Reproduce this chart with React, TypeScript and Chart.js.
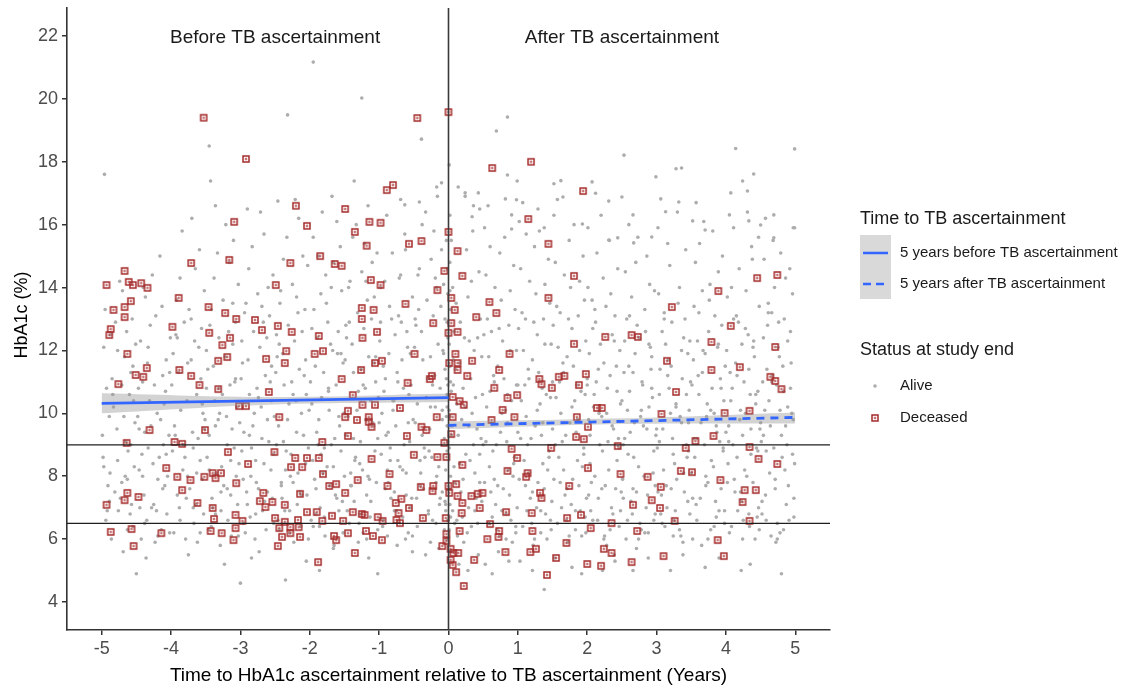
import React, { useEffect, useRef } from "react";
import { Chart, registerables } from "chart.js";

Chart.register(...registerables);

const FONT = '"Liberation Sans", Arial, sans-serif';

// ---- axes ----
const xMin = -5.5;
const xMax = 5.5;
const yMin = 3.11;
const yMax = 22.89;
const xTicks = [-5, -4, -3, -2, -1, 0, 1, 2, 3, 4, 5];
const yTicks = [4, 6, 8, 10, 12, 14, 16, 18, 20, 22];
const refY = [6.5, 9];
const refX = [0];

// ---- texts ----
const panelLabels = ["Before TB ascertainment", "After TB ascertainment"];
const panelLabelX = [-2.5, 2.5];
const panelLabelY = 22;
const xTitle = "Time to HbA1c ascertainment relative to TB ascertainment (Years)";
const yTitle = "HbA1c (%)";
const legendTitle1 = "Time to TB ascertainment";
const legendItems1 = ["5 years before TB ascertainment", "5 years after TB ascertainment"];
const legendTitle2 = "Status at study end";
const legendItems2 = ["Alive", "Deceased"];

// ---- fitted lines and confidence bands ----
const trendBeforeX = [-5, 0];
const trendBeforeY = [10.32, 10.5];
const trendAfterX = [0, 5];
const trendAfterY = [9.62, 9.87];
const bandBeforeX = [-5, -2.5, 0];
const bandBeforeLo = [10.0, 10.28, 10.36];
const bandBeforeHi = [10.64, 10.52, 10.63];
const bandAfterX = [0, 2.5, 5];
const bandAfterLo = [9.5, 9.66, 9.68];
const bandAfterHi = [9.74, 9.84, 10.03];

// ---- alive (grey) points, before TB ascertainment ----
const aliveBefore = [
[-4.97,12.1],[-4.62,8.8],[-4.83,10.2],[-4.55,6.4],[-4.91,7.7],[-4.7,13.9],[-4.58,11.3],[-4.99,9.3],[-4.76,6.9],[-4.64,12.6],[-4.88,8.1],[-4.52,9.7],[-4.95,13.3],[-4.73,7.3],[-4.6,10.6],[-4.86,6.0],[-4.67,11.8],[-4.53,8.3],[-4.8,12.9],[-4.93,10.8],[-4.57,7.1],[-4.78,9.5],[-4.69,5.6],[-4.85,11.1],[-4.51,12.2],[-4.98,8.6],[-4.65,9.1],[-4.74,14.2],[-4.59,6.8],[-4.89,9.9],[-4.54,10.4],[-4.81,7.5],[-4.66,8.0],[-4.94,6.6],[-4.71,10.9],[-4.56,13.0],[-4.87,12.5],[-4.63,7.9],[-4.5,4.9],[-4.77,8.5],
[-4.44,12.3],[-4.17,8.6],[-4.31,10.4],[-4.06,6.8],[-4.39,7.4],[-4.22,13.1],[-4.48,9.9],[-4.12,11.2],[-4.35,6.6],[-4.03,9.3],[-4.27,14.4],[-4.46,8.2],[-4.09,7.7],[-4.2,10.0],[-4.41,11.0],[-4.14,6.3],[-4.33,8.9],[-4.01,12.4],[-4.25,7.1],[-4.37,13.7],[-4.08,10.7],[-4.29,9.6],[-4.43,6.0],[-4.16,15.0],[-4.05,8.0],[-4.47,10.8],[-4.23,5.9],[-4.34,11.6],[-4.11,9.0],[-4.4,14.0],[-4.19,7.9],[-4.02,6.2],[-4.3,12.8],[-4.45,7.0],[-4.13,13.4],[-4.26,8.4],[-4.38,9.4],[-4.07,11.7],[-4.21,6.9],[-4.36,5.4],[-4.1,10.3],[-4.42,8.7],
[-3.93,12.5],[-3.61,9.2],[-3.78,7.3],[-3.52,13.9],[-3.86,10.1],[-3.67,6.5],[-3.98,8.8],[-3.71,11.7],[-3.55,7.9],[-3.84,15.8],[-3.63,10.6],[-3.96,6.2],[-3.74,13.3],[-3.58,8.5],[-3.89,11.3],[-3.69,9.4],[-3.53,6.8],[-3.81,12.9],[-3.65,14.6],[-3.95,9.6],[-3.76,8.0],[-3.57,11.1],[-3.88,7.0],[-3.7,16.2],[-3.6,12.1],[-3.92,13.6],[-3.79,6.0],[-3.54,10.0],[-3.83,8.2],[-3.66,12.3],[-3.99,10.9],[-3.73,7.6],[-3.51,9.8],[-3.87,14.3],[-3.62,5.9],[-3.77,10.4],[-3.59,15.2],[-3.91,7.4],[-3.68,8.9],[-3.82,9.0],[-3.56,12.7],[-3.75,5.5],[-3.97,11.9],[-3.64,7.1],
[-3.44,12.8],[-3.12,9.5],[-3.28,7.5],[-3.03,14.1],[-3.37,10.4],[-3.18,6.6],[-3.48,8.6],[-3.22,11.8],[-3.06,8.0],[-3.33,15.1],[-3.15,10.9],[-3.46,6.3],[-3.25,13.6],[-3.09,8.9],[-3.39,11.5],[-3.2,9.9],[-3.04,7.1],[-3.31,12.4],[-3.16,14.8],[-3.45,9.3],[-3.27,8.3],[-3.08,11.0],[-3.4,7.0],[-3.21,16.0],[-3.11,12.2],[-3.42,13.3],[-3.29,5.8],[-3.05,10.2],[-3.35,8.1],[-3.17,12.6],[-3.49,10.8],[-3.24,7.7],[-3.01,9.7],[-3.38,14.3],[-3.13,6.1],[-3.26,10.6],[-3.1,15.5],[-3.41,7.3],[-3.19,9.0],[-3.32,9.8],[-3.07,12.9],[-3.23,5.2],[-3.47,11.4],[-3.14,7.4],[-3.36,6.8],[-3.0,4.6],[-3.3,10.0],[-3.02,8.4],
[-2.94,13.2],[-2.61,9.8],[-2.77,7.8],[-2.53,14.4],[-2.87,10.6],[-2.68,6.9],[-2.98,8.8],[-2.72,12.1],[-2.56,8.2],[-2.83,15.3],[-2.64,11.2],[-2.96,6.5],[-2.75,13.8],[-2.59,9.1],[-2.89,11.7],[-2.7,10.2],[-2.54,7.3],[-2.81,12.6],[-2.66,15.7],[-2.95,9.4],[-2.78,8.5],[-2.57,11.0],[-2.9,7.1],[-2.71,16.4],[-2.62,12.4],[-2.92,13.5],[-2.79,6.0],[-2.55,10.4],[-2.85,8.0],[-2.67,12.9],[-2.99,11.1],[-2.74,7.6],[-2.51,9.9],[-2.88,14.6],[-2.63,6.3],[-2.76,10.8],[-2.6,14.0],[-2.91,7.5],[-2.69,9.2],[-2.82,9.6],[-2.58,13.1],[-2.73,5.6],[-2.97,11.6],[-2.65,7.2],[-2.86,6.7],[-2.52,8.7],[-2.8,10.0],[-2.84,5.4],
[-2.43,13.5],[-2.12,10.0],[-2.28,8.0],[-2.03,14.7],[-2.37,10.9],[-2.18,7.1],[-2.48,9.0],[-2.22,12.3],[-2.06,8.4],[-2.33,15.6],[-2.15,11.4],[-2.46,6.6],[-2.25,14.1],[-2.09,9.3],[-2.39,11.9],[-2.2,10.4],[-2.04,7.4],[-2.31,12.8],[-2.16,16.2],[-2.45,9.6],[-2.27,8.7],[-2.08,11.2],[-2.4,7.3],[-2.21,16.8],[-2.11,12.6],[-2.42,13.9],[-2.29,6.2],[-2.05,10.6],[-2.35,8.2],[-2.17,13.2],[-2.49,11.3],[-2.24,7.8],[-2.01,10.1],[-2.38,14.9],[-2.13,6.4],[-2.26,11.0],[-2.1,15.0],[-2.41,7.7],[-2.19,9.4],[-2.32,9.8],[-2.07,13.3],[-2.23,5.9],[-2.47,11.8],[-2.14,7.5],[-2.36,6.9],[-2.02,8.9],[-2.3,10.3],[-2.35,4.7],[-2.05,5.3],[-2.44,12.2],
[-1.52,11.6],[-1.81,8.1],[-1.66,14.8],[-1.97,10.3],[-1.58,6.9],[-1.74,12.9],[-1.9,9.4],[-1.61,16.1],[-1.86,6.4],[-1.51,10.0],[-1.94,13.3],[-1.71,7.7],[-1.6,11.9],[-1.88,15.0],[-1.55,8.8],[-1.78,6.1],[-1.99,11.0],[-1.64,9.2],[-1.84,13.8],[-1.53,7.2],[-1.73,10.7],[-1.93,7.9],[-1.68,16.9],[-1.87,9.8],[-1.59,12.6],[-1.8,11.3],[-1.96,8.5],[-1.63,7.4],[-1.77,14.4],[-1.54,13.9],[-1.91,6.8],[-1.7,12.2],[-1.83,10.5],[-1.57,9.6],[-1.95,15.6],[-1.75,8.3],[-1.62,10.9],[-1.89,12.4],[-1.56,15.3],[-1.79,8.9],[-1.98,6.6],[-1.67,12.0],[-1.85,7.0],[-1.72,10.1],[-1.92,11.5],[-1.5,8.0],[-1.76,13.5],[-1.65,5.8],[-1.82,16.4],[-1.69,9.0],[-1.86,5.0],[-1.66,5.7],
[-1.44,14.0],[-1.12,10.4],[-1.28,8.4],[-1.03,15.1],[-1.37,11.3],[-1.18,7.4],[-1.48,9.3],[-1.22,12.7],[-1.06,8.8],[-1.33,16.0],[-1.15,11.8],[-1.46,6.9],[-1.25,14.5],[-1.09,9.7],[-1.39,12.2],[-1.2,10.8],[-1.04,7.8],[-1.31,13.2],[-1.16,16.6],[-1.45,9.9],[-1.27,9.1],[-1.08,11.6],[-1.4,7.7],[-1.21,15.4],[-1.11,13.0],[-1.42,14.2],[-1.29,6.5],[-1.05,11.0],[-1.35,8.5],[-1.17,13.6],[-1.49,11.7],[-1.24,8.2],[-1.01,10.5],[-1.38,15.6],[-1.13,6.7],[-1.26,11.4],[-1.1,14.8],[-1.41,8.1],[-1.19,9.8],[-1.32,10.1],[-1.07,13.7],[-1.23,6.2],[-1.47,12.4],[-1.14,7.9],[-1.36,7.2],[-1.02,9.2],[-1.3,10.7],[-1.15,5.4],[-1.02,4.9],[-1.3,5.9],[-1.43,12.9],[-1.18,6.0],
[-0.96,10.0],[-0.68,12.9],[-0.83,7.3],[-0.54,10.9],[-0.92,14.2],[-0.73,8.5],[-0.59,12.1],[-0.87,7.8],[-0.63,15.7],[-0.99,12.3],[-0.56,9.1],[-0.79,10.4],[-0.66,6.7],[-0.94,11.5],[-0.52,13.7],[-0.76,9.6],[-0.89,16.3],[-0.61,8.1],[-0.82,13.0],[-0.97,8.7],[-0.65,10.8],[-0.71,14.3],[-0.55,7.0],[-0.91,11.1],[-0.78,7.5],[-0.51,9.8],[-0.86,11.9],[-0.7,8.3],[-0.95,6.4],[-0.6,12.6],[-0.81,15.1],[-0.53,7.3],[-0.74,11.3],[-0.9,9.3],[-0.64,9.0],[-0.98,14.0],[-0.57,10.6],[-0.84,8.9],[-0.72,13.1],[-0.88,8.2],[-0.62,15.2],[-0.93,10.7],[-0.58,6.2],[-0.8,10.1],[-0.67,11.7],[-0.85,13.4],[-0.75,6.9],[-1.0,9.7],[-0.77,12.5],[-0.74,5.8],[-0.52,5.6],[-0.88,6.1],[-0.62,6.0],[-0.69,16.8],
[-0.44,14.4],[-0.12,10.8],[-0.28,8.8],[-0.03,15.5],[-0.37,11.7],[-0.18,7.8],[-0.48,9.7],[-0.22,13.1],[-0.06,9.2],[-0.33,16.4],[-0.15,12.2],[-0.46,7.3],[-0.25,14.9],[-0.09,10.1],[-0.39,12.6],[-0.2,11.2],[-0.04,8.2],[-0.31,13.6],[-0.16,16.9],[-0.45,10.3],[-0.27,9.5],[-0.08,12.0],[-0.4,8.1],[-0.21,15.8],[-0.11,13.4],[-0.42,14.6],[-0.29,6.9],[-0.05,11.4],[-0.35,8.9],[-0.17,14.0],[-0.49,12.1],[-0.24,8.6],[-0.01,10.9],[-0.38,16.0],[-0.13,7.1],[-0.26,11.8],[-0.1,15.2],[-0.41,8.5],[-0.19,10.2],[-0.32,10.5],[-0.07,14.1],[-0.23,6.6],[-0.47,12.8],[-0.14,8.3],[-0.36,7.6],[-0.02,9.6],[-0.3,11.1],[-0.26,5.9],[-0.14,5.7],[-0.06,6.3],[-0.03,9.9],[-0.02,8.8],[-0.04,7.1],[-0.01,6.6],[-0.03,11.1],[-0.02,14.6],[-0.01,12.4],[-0.18,6.5],[-0.33,5.5],[-0.43,13.3],[-0.09,7.5],[-0.02,10.2],[-0.05,13.0]
];

// ---- alive (grey) points, after TB ascertainment ----
const aliveAfter = [
[0.01,17.9],[0.32,11.1],[0.14,9.3],[0.46,13.0],[0.03,13.3],[0.22,5.9],[0.38,8.1],[0.08,12.6],[0.27,6.2],[0.02,16.3],[0.41,9.5],[0.18,7.5],[0.35,15.8],[0.05,9.6],[0.24,16.9],[0.44,14.5],[0.12,10.3],[0.29,7.0],[0.01,8.9],[0.37,12.0],[0.16,8.4],[0.48,11.8],[0.06,14.0],[0.21,10.8],[0.42,6.5],[0.03,11.0],[0.31,8.5],[0.1,11.4],[0.26,15.2],[0.02,7.1],[0.45,7.8],[0.19,9.8],[0.34,10.0],[0.07,11.7],[0.23,12.4],[0.4,7.3],[0.13,6.1],[0.28,13.7],[0.02,9.9],[0.49,10.6],[0.17,12.9],[0.36,9.0],[0.09,7.8],[0.3,12.3],[0.04,10.7],[0.43,5.5],[0.2,6.7],[0.33,14.2],[0.11,13.5],[0.47,9.2],[0.25,8.7],[0.01,6.3],[0.15,5.2],[0.39,10.5],[0.03,5.6],[0.08,8.3],[0.28,5.0],[0.36,16.6],[0.06,6.9],[0.01,12.2],[0.03,8.0],[0.02,14.8],[0.04,15.5],
[0.56,13.0],[0.84,9.1],[0.67,14.0],[0.92,5.9],[0.58,11.8],[0.77,6.9],[0.96,13.3],[0.63,6.7],[0.81,15.6],[0.52,15.9],[0.89,13.9],[0.7,6.3],[0.99,7.0],[0.61,7.5],[0.86,8.2],[0.54,14.4],[0.75,9.4],[0.93,8.0],[0.65,11.2],[0.8,11.1],[0.51,12.5],[0.88,7.4],[0.73,12.7],[0.97,6.4],[0.59,8.3],[0.83,6.0],[0.68,7.1],[0.94,14.7],[0.55,10.2],[0.79,7.6],[0.9,6.6],[0.62,9.7],[0.76,13.6],[0.98,12.0],[0.57,16.6],[0.85,10.6],[0.71,11.5],[0.53,5.2],[0.87,12.8],[0.66,7.9],[0.95,8.6],[0.6,10.7],[0.78,12.3],[0.91,10.4],[0.64,8.8],[0.82,10.1],[0.72,5.6],[1.0,10.9],[0.69,9.0],[0.5,9.0],[0.63,4.9],[0.87,5.3],[0.6,15.3],[0.74,15.1],
[1.06,13.2],[1.34,9.3],[1.17,14.2],[1.42,6.0],[1.08,12.0],[1.27,7.0],[1.46,13.5],[1.13,6.9],[1.31,15.8],[1.02,16.1],[1.39,14.1],[1.2,6.5],[1.49,7.2],[1.11,7.7],[1.36,8.4],[1.04,14.6],[1.25,9.6],[1.43,8.2],[1.15,11.4],[1.3,11.3],[1.01,12.7],[1.38,7.6],[1.23,12.9],[1.47,6.6],[1.09,8.5],[1.33,6.2],[1.18,7.3],[1.44,14.9],[1.05,10.4],[1.29,7.8],[1.4,6.8],[1.12,9.9],[1.26,13.8],[1.48,12.2],[1.07,16.7],[1.35,10.8],[1.21,11.7],[1.03,5.3],[1.37,13.0],[1.16,8.1],[1.45,8.8],[1.1,10.9],[1.28,12.5],[1.41,10.6],[1.14,9.0],[1.32,10.3],[1.22,5.8],[1.5,11.0],[1.19,9.2],[1.0,9.4],[1.38,4.4],[1.21,5.0],[1.12,15.7],[1.24,15.3],
[1.56,13.4],[1.84,9.4],[1.67,14.4],[1.92,6.1],[1.58,12.1],[1.77,7.1],[1.96,13.6],[1.63,7.0],[1.81,16.0],[1.52,16.3],[1.89,14.2],[1.7,6.6],[1.99,7.3],[1.61,7.8],[1.86,8.5],[1.54,14.8],[1.75,9.7],[1.93,8.3],[1.65,11.6],[1.8,11.5],[1.51,12.8],[1.88,7.7],[1.73,13.0],[1.97,6.7],[1.59,8.6],[1.83,6.3],[1.68,7.4],[1.94,15.0],[1.55,10.5],[1.79,7.9],[1.9,6.9],[1.62,10.0],[1.76,14.0],[1.98,12.3],[1.57,16.8],[1.85,10.9],[1.71,11.8],[1.53,5.4],[1.87,13.1],[1.66,8.2],[1.95,8.9],[1.6,11.0],[1.78,12.7],[1.91,10.7],[1.64,9.1],[1.82,10.4],[1.72,5.9],[2.0,11.1],[1.69,9.3],[1.5,9.5],[1.78,5.1],[1.92,4.9],[1.62,17.4],[1.74,15.5],
[2.03,11.9],[2.31,8.2],[2.14,15.1],[2.46,6.4],[2.09,10.2],[2.27,13.4],[2.41,7.6],[2.18,9.0],[2.36,12.5],[2.05,6.9],[2.44,14.6],[2.22,8.8],[2.12,12.9],[2.48,10.3],[2.25,6.1],[2.38,9.5],[2.01,14.0],[2.33,11.2],[2.16,7.3],[2.43,8.5],[2.07,13.6],[2.29,10.8],[2.2,16.3],[2.47,12.0],[2.11,8.0],[2.35,7.0],[2.24,11.6],[2.02,9.8],[2.4,13.1],[2.15,6.6],[2.32,15.5],[2.06,7.8],[2.45,9.2],[2.19,12.2],[2.28,5.8],[2.1,10.6],[2.37,6.8],[2.23,14.3],[2.49,7.5],[2.13,11.0],[2.3,9.1],[2.04,8.4],[2.42,11.5],[2.17,10.0],[2.34,13.8],[2.26,7.7],[2.08,12.7],[2.39,5.5],[2.21,9.9],[2.0,10.9],[2.22,5.0],[2.4,5.3],[2.12,17.0],
[2.54,12.3],[2.81,9.6],[2.63,7.2],[2.97,13.9],[2.58,10.1],[2.76,6.5],[2.92,11.4],[2.67,8.6],[2.86,15.0],[2.51,7.9],[2.95,8.1],[2.72,12.8],[2.61,10.7],[2.88,6.2],[2.55,14.5],[2.79,11.0],[2.99,9.3],[2.65,6.8],[2.83,13.3],[2.52,9.0],[2.74,8.3],[2.94,10.5],[2.6,16.0],[2.87,7.4],[2.69,11.9],[2.56,6.0],[2.91,12.1],[2.77,9.9],[2.64,13.7],[2.98,7.7],[2.53,11.3],[2.82,8.0],[2.7,14.8],[2.89,10.2],[2.59,8.7],[2.96,6.6],[2.75,12.4],[2.62,9.4],[2.85,7.0],[2.57,13.0],[2.93,11.8],[2.71,5.7],[2.8,10.9],[2.66,7.6],[2.9,14.1],[2.5,10.4],[2.78,6.3],[2.68,9.7],[2.84,12.6],[2.73,15.6],[2.66,5.0],[2.88,5.4],[2.6,11.5],
[3.04,10.6],[3.31,13.5],[3.15,7.0],[3.46,9.7],[3.08,12.6],[3.26,8.4],[3.42,15.2],[3.12,6.4],[3.37,11.1],[3.01,8.9],[3.45,7.2],[3.2,10.0],[3.33,14.0],[3.06,6.8],[3.48,12.3],[3.23,9.2],[3.11,13.2],[3.39,8.1],[3.17,11.7],[3.02,15.9],[3.35,6.1],[3.28,10.3],[3.44,8.6],[3.09,9.5],[3.22,12.9],[3.49,11.0],[3.14,7.7],[3.3,16.4],[3.05,11.4],[3.4,7.5],[3.19,14.7],[3.47,10.1],[3.25,6.6],[3.1,8.2],[3.36,12.0],[3.03,13.8],[3.43,9.0],[3.18,10.8],[3.29,7.9],[3.13,12.2],[3.38,5.9],[3.07,7.4],[3.41,13.0],[3.21,11.5],[3.34,9.9],[3.16,15.4],[3.27,6.9],[3.0,9.5],[3.24,8.7],[3.2,5.0],[3.38,5.5],[3.36,17.8],[3.45,11.9],
[3.53,11.7],[3.82,8.3],[3.66,13.9],[3.97,10.4],[3.57,7.1],[3.75,12.6],[3.91,9.1],[3.62,15.4],[3.86,6.7],[3.51,10.9],[3.94,12.8],[3.71,8.0],[3.6,11.2],[3.89,14.5],[3.55,8.6],[3.78,6.3],[3.99,11.5],[3.64,9.7],[3.84,13.1],[3.52,6.0],[3.73,10.3],[3.93,7.6],[3.68,16.1],[3.87,9.4],[3.59,12.3],[3.8,10.8],[3.96,8.8],[3.63,7.3],[3.77,14.1],[3.54,13.4],[3.9,6.9],[3.7,11.9],[3.83,10.0],[3.58,9.2],[3.95,15.0],[3.74,7.8],[3.61,10.6],[3.88,12.1],[3.56,14.8],[3.79,8.5],[3.98,6.5],[3.67,12.0],[3.85,7.2],[3.72,9.9],[3.92,11.1],[3.5,8.1],[3.76,13.6],[3.65,5.8],[3.81,15.8],[3.69,9.0],[3.7,5.1],[3.9,5.4],[3.57,16.7],
[4.04,9.6],[4.32,12.5],[4.17,6.9],[4.46,10.7],[4.08,14.0],[4.27,8.2],[4.41,11.8],[4.13,7.5],[4.37,15.3],[4.01,12.0],[4.44,8.9],[4.21,10.1],[4.34,6.4],[4.06,11.3],[4.48,13.4],[4.24,9.3],[4.11,15.9],[4.39,7.8],[4.18,12.9],[4.03,8.4],[4.35,10.6],[4.29,13.9],[4.45,6.7],[4.09,10.8],[4.22,7.2],[4.49,9.5],[4.14,11.6],[4.3,8.0],[4.05,6.2],[4.4,12.3],[4.19,14.6],[4.47,7.0],[4.26,11.0],[4.1,9.0],[4.36,8.7],[4.02,13.7],[4.43,10.3],[4.16,8.6],[4.28,12.7],[4.12,7.9],[4.38,14.9],[4.07,10.4],[4.42,6.0],[4.2,9.8],[4.33,11.4],[4.15,13.1],[4.25,6.6],[4.0,9.4],[4.23,12.2],[4.22,5.0],[4.35,5.2],[4.31,16.4],[4.47,15.6],
[4.53,11.0],[4.81,8.6],[4.66,13.2],[4.97,9.8],[4.57,7.4],[4.75,12.1],[4.91,6.6],[4.62,10.4],[4.86,14.3],[4.51,9.1],[4.94,11.6],[4.71,7.9],[4.6,12.8],[4.89,10.2],[4.55,14.9],[4.78,6.2],[4.99,8.4],[4.64,9.6],[4.84,13.0],[4.52,6.8],[4.73,10.9],[4.93,12.6],[4.68,15.5],[4.87,7.1],[4.59,11.4],[4.8,9.3],[4.96,13.8],[4.63,8.1],[4.77,11.8],[4.54,12.4],[4.9,7.7],[4.7,14.0],[4.83,10.7],[4.58,8.8],[4.95,10.0],[4.74,6.5],[4.61,13.5],[4.88,9.0],[4.56,10.1],[4.79,15.1],[4.98,7.3],[4.67,11.2],[4.85,8.2],[4.72,5.9],[4.92,14.6],[4.5,9.7],[4.76,12.9],[4.65,6.1],[4.82,11.5],[4.69,8.9],[4.8,4.9],[4.99,15.9],[4.57,16.2]
];

// ---- alive (grey) points in the dense middle band ----
const aliveDense = [
[-4.92,6.9],[-4.71,7.8],[-4.58,9.0],[-4.84,10.6],[-4.63,6.3],[-4.97,8.3],[-4.55,11.5],[-4.77,12.0],[-4.68,9.9],[-4.89,7.2],
[-4.38,6.5],[-4.12,7.6],[-4.46,9.5],[-4.24,10.9],[-4.07,8.7],[-4.33,12.1],[-4.19,6.1],[-4.41,8.0],[-4.02,11.3],[-4.28,7.0],[-4.15,9.8],
[-3.87,6.6],[-3.63,8.1],[-3.94,9.3],[-3.55,10.3],[-3.76,11.6],[-3.68,7.0],[-3.91,12.4],[-3.58,6.2],[-3.8,8.6],[-3.52,9.5],[-3.71,13.0],
[-3.42,6.4],[-3.14,8.5],[-3.36,9.6],[-3.07,11.1],[-3.28,6.9],[-3.49,12.0],[-3.19,7.6],[-3.03,6.1],[-3.31,10.8],[-3.11,13.5],[-3.45,8.2],
[-2.93,6.2],[-2.66,8.4],[-2.87,9.3],[-2.55,11.5],[-2.78,6.8],[-2.98,12.3],[-2.61,7.5],[-2.74,10.5],[-2.52,6.5],[-2.84,8.9],[-2.69,13.4],[-2.96,7.9],
[-2.44,6.3],[-2.17,8.1],[-2.38,9.1],[-2.06,11.7],[-2.29,6.9],[-2.48,12.5],[-2.12,7.4],[-2.24,10.6],[-2.02,6.0],[-2.34,8.8],[-2.19,13.7],[-2.41,7.8],
[-1.95,6.4],[-1.66,8.3],[-1.88,9.0],[-1.55,11.9],[-1.79,6.7],[-1.97,12.7],[-1.61,7.3],[-1.73,10.8],[-1.52,6.2],[-1.84,8.7],[-1.69,14.0],[-1.91,7.6],[-1.58,9.9],
[-1.43,6.5],[-1.16,8.0],[-1.37,9.2],[-1.05,11.8],[-1.28,6.8],[-1.48,12.8],[-1.12,7.2],[-1.23,10.9],[-1.02,6.3],[-1.34,8.6],[-1.19,14.2],[-1.41,7.7],[-1.08,9.6],
[-0.94,6.6],[-0.66,8.2],[-0.87,9.4],[-0.55,11.9],[-0.78,6.9],[-0.98,12.9],[-0.61,7.4],[-0.73,11.0],[-0.52,6.1],[-0.84,8.5],[-0.69,14.4],[-0.91,7.6],[-0.58,9.7],[-0.8,10.4],
[-0.45,6.4],[-0.17,8.0],[-0.38,9.3],[-0.07,11.9],[-0.29,6.8],[-0.48,13.0],[-0.12,7.3],[-0.23,10.9],[-0.03,6.0],[-0.34,8.6],[-0.19,14.3],[-0.41,7.7],[-0.09,9.8],[-0.26,10.2],[-0.05,7.2],[-0.02,12.9],[-0.04,6.9],[-0.01,9.1],[-0.02,10.6],[-0.01,13.8],
[0.01,10.1],[0.02,11.5],[0.01,7.6],[0.03,6.7],[0.02,13.9],[0.04,9.3],[0.12,6.6],[0.38,6.9],[0.21,7.9],[0.45,8.7],[0.07,10.9],[0.29,9.6],[0.16,11.6],[0.42,12.4],[0.33,6.4],[0.24,10.2],[0.48,7.2],[0.09,6.5],
[0.58,6.5],[0.83,6.8],[0.71,7.7],[0.94,8.4],[0.54,9.1],[0.77,10.0],[0.66,11.0],[0.89,12.0],[0.62,12.6],[0.97,6.2],[0.52,7.8],[0.85,9.7],[0.74,6.1],[0.98,10.9],
[1.07,6.4],[1.33,6.9],[1.21,7.5],[1.45,8.6],[1.04,9.2],[1.28,10.1],[1.16,11.1],[1.39,12.2],[1.11,13.0],[1.48,6.3],[1.02,7.9],[1.36,9.7],[1.24,6.0],[1.47,10.5],
[1.57,6.5],[1.83,6.9],[1.71,7.6],[1.95,8.7],[1.54,9.0],[1.78,10.2],[1.66,11.3],[1.89,12.0],[1.61,13.2],[1.98,6.2],[1.52,7.9],[1.86,9.8],[1.74,6.1],[1.97,10.6],
[2.08,6.6],[2.33,6.3],[2.21,7.6],[2.46,8.9],[2.04,9.3],[2.28,10.0],[2.16,11.4],[2.39,12.3],[2.11,13.3],[2.48,6.9],[2.02,7.4],[2.36,9.6],[2.24,6.0],[2.43,10.7],
[2.58,6.6],[2.83,6.2],[2.71,7.5],[2.96,8.8],[2.54,9.2],[2.78,10.1],[2.66,11.3],[2.89,12.2],[2.61,13.1],[2.98,6.8],[2.52,7.3],[2.86,9.5],[2.74,6.0],[2.93,10.8],
[3.08,6.5],[3.33,6.3],[3.21,7.6],[3.46,8.8],[3.04,9.1],[3.28,10.2],[3.16,11.2],[3.39,12.4],[3.11,13.0],[3.48,6.8],[3.02,7.5],[3.36,9.7],[3.24,6.1],[3.43,10.6],
[3.58,6.6],[3.83,6.4],[3.71,7.7],[3.96,8.9],[3.54,9.2],[3.78,10.1],[3.66,11.3],[3.89,12.2],[3.61,13.2],[3.98,6.9],[3.52,7.3],[3.86,9.6],[3.74,6.0],[3.93,10.8],
[4.08,6.4],[4.33,6.8],[4.21,7.5],[4.46,8.8],[4.04,9.1],[4.28,10.0],[4.16,11.2],[4.39,12.1],[4.11,13.0],[4.48,6.3],[4.02,7.8],[4.36,9.5],[4.24,6.0],[4.43,10.6],
[4.58,6.6],[4.83,6.3],[4.71,7.6],[4.96,8.7],[4.54,9.3],[4.78,10.1],[4.66,11.0],[4.89,12.3],[4.61,13.2],[4.98,6.7],[4.52,7.2],[4.86,9.6],[4.74,6.0],[4.93,10.8]
];

// ---- alive (grey) sparse high values ----
const aliveSparse = [
[-1.95,21.17],[-1.25,20.03],[-2.32,19.49],[-3.45,18.5],[-0.39,18.72],[-3.43,17.39],[-4.96,17.6],[-1.36,17.39],[-2.9,16.5],[-3.36,16.6],[-2.46,16.75],[-0.1,17.33],[-0.17,17.2],[-0.42,16.72],[-0.63,16.63],
[0.85,19.42],[0.69,18.98],[2.53,18.21],[4.14,18.42],[4.99,18.41],[3.28,17.78],[2.99,17.52],[2.07,17.36],[0.99,17.39],[0.85,17.58],[4.4,17.61],[4.24,17.39],[4.31,17.07],[4.07,17.01],[1.52,17.3],[1.65,16.88],[2.5,16.88],[2.31,16.75],[3.06,16.82],[3.32,16.72],[0.14,17.2],[0.24,17.01],[0.43,17.01],[0.82,16.82],[0.98,16.79],[1.29,16.5],[0.45,16.5],[0.34,16.25],[0.91,16.31],[2.66,16.31],[3.13,16.41],[4.05,16.31],[4.69,16.31],[4.97,15.9],[4.33,16.12],[4.5,15.99],[3.52,16.12],[3.7,15.83],[2.93,15.61],[4.69,15.58],[0.91,15.86],[1.38,15.9],[1.93,16.02],[2.01,15.9],[2.31,15.51],[2.44,15.58],[2.67,15.42]
];

// ---- deceased (red squares) ----
const deceased = [
[-3.53,19.4],[-2.92,18.09],[-2.2,16.6],[-2.04,15.96],[-3.09,16.09],[-3.71,14.78],[-3.16,14.88],[-2.28,14.78],[-4.67,14.53],[-4.93,14.08],[-4.61,14.18],[-4.55,14.08],[-4.43,14.14],[-4.34,13.99],[-2.49,14.08],[-1.85,15.0],[-3.89,13.67],[-4.58,13.57],[-4.67,13.38],[-4.83,13.29],[-4.67,13.06],[-3.46,13.38],[-3.22,13.19],[-3.06,13.0],[-2.79,12.97],[-2.69,12.65],[-2.46,12.78],[-2.26,12.59],[-3.98,12.75],[-3.45,12.56],[-4.87,12.68],[-4.89,12.49],[-3.15,12.4],[-3.26,12.17],[-1.87,12.46],
[-0.45,19.39],[0.0,19.58],[0.63,17.8],[1.19,18.0],[-0.89,17.1],[-0.8,17.26],[-1.49,16.5],[-1.14,16.09],[-0.98,16.06],[-1.35,15.77],[-1.18,15.33],[-0.57,15.39],[-0.39,15.48],[0.0,15.77],[1.15,16.18],[1.44,15.39],[0.13,15.16],[-1.64,14.75],[-1.54,14.69],[-0.06,14.53],[0.2,14.37],[-1.12,14.24],[-0.98,14.08],[-0.16,13.92],[0.04,13.67],[1.81,14.37],[1.44,13.67],[0.59,13.54],[-0.62,13.48],[-1.25,13.35],[-1.08,13.29],[0.09,13.29],[0.69,13.19],[0.4,13.06],[-1.25,13.0],[-0.22,12.87],[0.04,12.87],[-1.03,12.59],[0.0,12.56],[0.13,12.59],[-1.24,12.4],[1.81,12.21],
[1.94,17.07],[4.45,14.3],[4.74,14.4],[3.89,13.89],[3.22,13.38],[4.07,12.78],[2.26,12.43],[2.64,12.49],[2.73,12.43],[3.79,12.27],[4.71,12.11],
[-4.63,11.89],[-4.35,11.44],[-4.51,11.22],[-4.4,11.16],[-4.76,10.93],[-3.88,11.38],[-3.71,11.19],[-3.59,10.9],[-3.32,10.77],[-3.32,11.67],[-3.19,11.79],[-2.63,11.73],[-2.34,11.98],[-2.36,11.6],[-1.93,11.89],[-1.81,11.98],[-2.59,10.68],[-3.02,10.23],[-2.92,10.23],[-2.44,9.88],[-4.31,9.47],[-3.51,9.47],[-4.64,9.06],[-3.95,9.09],[-3.84,9.03],[-1.82,9.09],[-3.18,8.77],[-2.51,8.77],[-2.21,8.58],[-2.04,8.58],[-1.87,8.58],[-2.27,8.29],[-2.11,8.29],[-2.89,8.39],[-4.07,8.26],[-3.91,7.98],[-3.72,7.88],[-3.52,7.98],[-3.4,8.1],[-3.36,7.94],[-3.28,8.1],[-3.06,7.78],[-1.81,8.07],[-3.84,7.56],[-4.63,7.47],[-4.67,7.24],[-4.47,7.34],[-4.93,7.09],[-3.62,7.15],[-3.4,6.99],[-2.67,7.47],[-2.72,7.21],[-2.64,7.02],[-2.54,7.18],[-2.36,7.09],[-2.14,7.44],[-2.04,6.86],[-1.9,6.86],[-3.38,6.64],[-3.07,6.77],[-2.97,6.58],[-3.07,6.35],[-3.43,6.26],[-3.27,6.19],[-3.1,5.97],[-4.87,6.23],[-4.57,6.32],[-4.14,6.19],[-4.54,5.78],[-2.5,6.67],[-2.36,6.55],[-2.44,6.35],[-2.28,6.38],[-2.28,6.19],[-2.4,6.07],[-2.46,5.78],[-2.14,6.07],[-2.17,6.61],[-2.16,6.38],[-1.82,6.58],[-1.88,5.27],
[-1.06,11.6],[-0.96,11.67],[-1.26,11.38],[-1.54,11.09],[-0.59,10.97],[-0.27,11.09],[-0.24,11.19],[-0.49,11.89],[0.1,11.89],[0.01,11.6],[0.13,11.6],[0.13,11.38],[0.34,11.67],[0.27,11.19],[0.73,11.38],[0.88,11.89],[1.31,11.09],[1.34,10.93],[1.59,11.16],[1.67,11.19],[1.49,10.81],[0.66,10.81],[0.99,10.58],[0.85,10.49],[0.78,10.11],[0.95,9.88],[0.62,9.79],[0.06,10.52],[0.16,10.39],[0.22,10.27],[0.06,9.88],[0.04,9.34],[-1.38,10.58],[-1.24,10.27],[-1.06,10.27],[-0.7,10.17],[-1.45,10.08],[-1.49,9.88],[-1.32,9.79],[-1.15,9.88],[-1.15,9.73],[-1.11,9.57],[-0.39,9.57],[-0.32,9.47],[-0.17,9.88],[-0.6,9.28],[-1.45,9.28],[-0.06,9.06],[-0.03,8.61],[-0.16,8.61],[-0.5,8.68],[-1.11,8.55],[0.2,8.36],[0.91,8.87],[1.48,8.9],[0.99,8.58],[0.85,8.17],[1.14,8.1],[1.12,7.98],[1.74,7.69],[-0.85,8.07],[-1.31,7.88],[-1.72,7.69],[-1.62,7.75],[-0.88,7.69],[-0.4,7.66],[-0.22,7.69],[-0.23,7.53],[0.0,7.69],[0.01,7.47],[0.11,7.75],[-1.49,7.47],[-0.68,7.28],[-0.76,7.15],[-0.57,6.99],[-0.72,6.83],[0.13,7.37],[0.33,7.37],[0.42,7.44],[0.49,7.47],[0.2,7.15],[0.19,6.83],[0.45,6.99],[0.83,6.86],[1.2,6.83],[1.32,7.47],[1.34,7.31],[1.71,6.67],[-1.38,6.86],[-1.25,6.8],[-1.21,6.77],[-1.02,6.7],[-0.95,6.58],[-0.75,6.61],[-0.7,6.51],[-0.37,6.67],[-0.04,6.67],[-1.68,6.74],[-1.52,6.58],[0.6,6.48],[0.73,6.26],[0.72,6.07],[0.16,6.26],[-0.03,6.16],[-0.03,5.94],[-0.09,5.78],[0.03,5.69],[0.07,5.56],[0.14,5.56],[0.03,5.34],[0.06,5.18],[0.11,4.95],[0.22,4.51],[0.37,5.34],[0.56,6.0],[0.82,5.59],[1.21,6.26],[1.18,5.59],[1.26,5.69],[1.55,5.4],[1.42,4.86],[1.7,5.88],[-1.65,6.1],[-1.62,5.97],[-1.45,6.19],[-1.19,6.26],[-1.09,6.1],[-0.96,5.97],[-1.35,5.56],
[3.15,11.67],[3.79,11.38],[4.2,11.47],[4.64,11.16],[4.71,11.03],[4.8,10.77],[1.98,11.25],[1.88,10.9],[3.28,10.68],[2.14,10.17],[2.21,10.17],[1.85,9.88],[2.01,9.57],[3.07,9.98],[3.98,10.01],[4.34,10.08],[1.84,9.25],[1.95,9.18],[2.44,8.96],[3.82,9.28],[3.56,9.12],[3.42,8.9],[4.34,8.93],[4.47,8.55],[4.74,8.39],[2.01,8.26],[2.48,8.07],[2.87,7.98],[3.35,8.17],[3.51,8.13],[3.92,7.88],[3.06,7.66],[4.27,7.56],[4.43,7.56],[4.24,7.18],[2.93,7.24],[2.66,7.09],[3.05,6.99],[1.91,6.77],[3.26,6.58],[4.34,6.58],[2.05,6.35],[2.35,6.51],[2.72,6.26],[3.88,5.97],[2.24,5.69],[2.35,5.56],[2.0,5.21],[2.2,5.15],[2.64,5.27],[3.1,5.46],[3.97,5.46]
];

// ---- styles ----
const ALIVE_COLOR = "#adadad";
const DEAD_COLOR = "#a52a2a";
const LINE_COLOR = "#3366ff";
const BAND_COLOR = "rgba(150,150,150,0.42)";
const REF_COLOR = "#1f1f1f";
const AXIS_COLOR = "#333333";
const TICK_COLOR = "#4d4d4d";

const toPts = (arr: number[][]) => arr.map(([x, y]) => ({ x, y }));
const zipPts = (xs: number[], ys: number[]) => xs.map((x, i) => ({ x, y: ys[i] }));

function makeDeadMarker(): HTMLCanvasElement {
  const c = document.createElement("canvas");
  c.width = 10;
  c.height = 10;
  const g = c.getContext("2d")!;
  g.strokeStyle = DEAD_COLOR;
  g.lineWidth = 1.5;
  g.strokeRect(2, 2, 6, 6);
  g.globalAlpha = 0.8;
  g.lineWidth = 1;
  g.beginPath();
  g.moveTo(5, 3.6);
  g.lineTo(5, 6.4);
  g.moveTo(3.6, 5);
  g.lineTo(6.4, 5);
  g.stroke();
  return c;
}

let deadMarker: HTMLCanvasElement;

const textPlugin = {
  id: "texts",
  afterDraw(chart: any) {
    const { ctx, chartArea, scales } = chart;
    const xs = scales.x;
    const ys = scales.y;
    ctx.save();
    ctx.fillStyle = "#1a1a1a";
    ctx.textBaseline = "middle";
    ctx.textAlign = "center";
    ctx.font = `19px ${FONT}`;
    panelLabels.forEach((t, i) => {
      ctx.fillText(t, xs.getPixelForValue(panelLabelX[i]), ys.getPixelForValue(panelLabelY) + 2);
    });
    // x title
    ctx.fillStyle = "#000";
    ctx.fillText(xTitle, xs.getPixelForValue(0), 676);
    // y title
    ctx.save();
    ctx.translate(22, (chartArea.top + chartArea.bottom) / 2 - 4);
    ctx.rotate(-Math.PI / 2);
    ctx.font = `18px ${FONT}`;
    ctx.fillText(yTitle, 0, 0);
    ctx.restore();

    // legend
    const lx = 860;
    ctx.textAlign = "left";
    ctx.fillStyle = "#1a1a1a";
    ctx.font = `18px ${FONT}`;
    ctx.fillText(legendTitle1, lx, 219);
    ctx.fillStyle = "#d9d9d9";
    ctx.fillRect(lx, 235, 31, 64);
    ctx.strokeStyle = LINE_COLOR;
    ctx.lineWidth = 2.5;
    ctx.beginPath();
    ctx.moveTo(lx + 3, 253);
    ctx.lineTo(lx + 28, 253);
    ctx.stroke();
    ctx.setLineDash([8, 5]);
    ctx.beginPath();
    ctx.moveTo(lx + 3, 284);
    ctx.lineTo(lx + 28, 284);
    ctx.stroke();
    ctx.setLineDash([]);
    ctx.fillStyle = "#1a1a1a";
    ctx.font = `15px ${FONT}`;
    ctx.fillText(legendItems1[0], 900, 253);
    ctx.fillText(legendItems1[1], 900, 284);

    ctx.font = `18px ${FONT}`;
    ctx.fillText(legendTitle2, lx, 350);
    ctx.fillStyle = ALIVE_COLOR;
    ctx.beginPath();
    ctx.arc(875, 386, 1.8, 0, Math.PI * 2);
    ctx.fill();
    ctx.drawImage(deadMarker, 870, 413);
    ctx.fillStyle = "#1a1a1a";
    ctx.font = `15px ${FONT}`;
    ctx.fillText(legendItems2[0], 900, 386);
    ctx.fillText(legendItems2[1], 900, 418);
    ctx.restore();
  },
};

export default function App() {
  const ref = useRef<HTMLCanvasElement>(null);

  useEffect(() => {
    if (!ref.current) return;
    deadMarker = makeDeadMarker();
    const lineDs = (data: any[], extra: any) => ({
      type: "scatter",
      data,
      showLine: true,
      pointRadius: 0,
      fill: false,
      ...extra,
    });
    const chart = new Chart(ref.current, {
      type: "scatter",
      data: {
        datasets: [
          lineDs(zipPts(trendBeforeX, trendBeforeY), { borderColor: LINE_COLOR, borderWidth: 2.8, order: 0 }),
          lineDs(zipPts(trendAfterX, trendAfterY), { borderColor: LINE_COLOR, borderWidth: 2.8, borderDash: [8, 6], order: 0 }),
          ...refY.map((v) =>
            lineDs([{ x: xMin, y: v }, { x: xMax, y: v }], { borderColor: REF_COLOR, borderWidth: 1.3, order: 1 })
          ),
          ...refX.map((v) =>
            lineDs([{ x: v, y: yMin }, { x: v, y: yMax }], { borderColor: "#3a3a3a", borderWidth: 1.6, order: 1 })
          ),
          lineDs(zipPts(bandBeforeX, bandBeforeLo), { borderWidth: 0, borderColor: "rgba(0,0,0,0)", tension: 0.4, order: 2 }),
          lineDs(zipPts(bandBeforeX, bandBeforeHi), { borderWidth: 0, borderColor: "rgba(0,0,0,0)", tension: 0.4, fill: "-1", backgroundColor: BAND_COLOR, order: 2 }),
          lineDs(zipPts(bandAfterX, bandAfterLo), { borderWidth: 0, borderColor: "rgba(0,0,0,0)", tension: 0.4, order: 2 }),
          lineDs(zipPts(bandAfterX, bandAfterHi), { borderWidth: 0, borderColor: "rgba(0,0,0,0)", tension: 0.4, fill: "-1", backgroundColor: BAND_COLOR, order: 2 }),
          {
            type: "scatter",
            data: toPts(deceased),
            pointStyle: deadMarker,
            pointRadius: 5,
            order: 3,
          },
          {
            type: "scatter",
            data: toPts([...aliveBefore, ...aliveAfter, ...aliveDense, ...aliveSparse]),
            pointRadius: 1.8,
            pointBorderWidth: 0,
            backgroundColor: ALIVE_COLOR,
            borderColor: ALIVE_COLOR,
            order: 4,
          },
        ] as any,
      },
      options: {
        animation: false,
        responsive: false,
        events: [],
        layout: { padding: { left: 0, top: 8, right: 296, bottom: 0 } },
        plugins: { legend: { display: false }, tooltip: { enabled: false } },
        scales: {
          x: {
            type: "linear",
            min: xMin,
            max: xMax,
            afterBuildTicks: (s: any) => {
              s.ticks = xTicks.map((v) => ({ value: v }));
            },
            afterFit: (s: any) => {
              s.height = 60;
              s.paddingLeft = 0;
              s.paddingRight = 0;
            },
            ticks: { font: { size: 18, family: FONT }, color: TICK_COLOR, padding: 3, maxRotation: 0 },
            grid: { display: true, drawOnChartArea: false, drawTicks: true, tickLength: 5, color: AXIS_COLOR, lineWidth: 1.5 },
            border: { display: true, color: AXIS_COLOR, width: 1.6 },
          },
          y: {
            type: "linear",
            min: yMin,
            max: yMax,
            afterBuildTicks: (s: any) => {
              s.ticks = yTicks.map((v) => ({ value: v }));
            },
            afterFit: (s: any) => {
              s.width = 67;
              s.paddingTop = 0;
              s.paddingBottom = 0;
            },
            ticks: { font: { size: 18, family: FONT }, color: TICK_COLOR, padding: 4 },
            grid: { display: true, drawOnChartArea: false, drawTicks: true, tickLength: 5, color: AXIS_COLOR, lineWidth: 1.5 },
            border: { display: true, color: AXIS_COLOR, width: 1.6 },
          },
        },
      } as any,
      plugins: [textPlugin],
    });
    return () => chart.destroy();
  }, []);

  return (
    <div style={{ position: "absolute", left: 0, top: 0, width: 1126, height: 690, background: "#fff" }}>
      <canvas ref={ref} width={1126} height={690} style={{ display: "block" }} />
    </div>
  );
}
